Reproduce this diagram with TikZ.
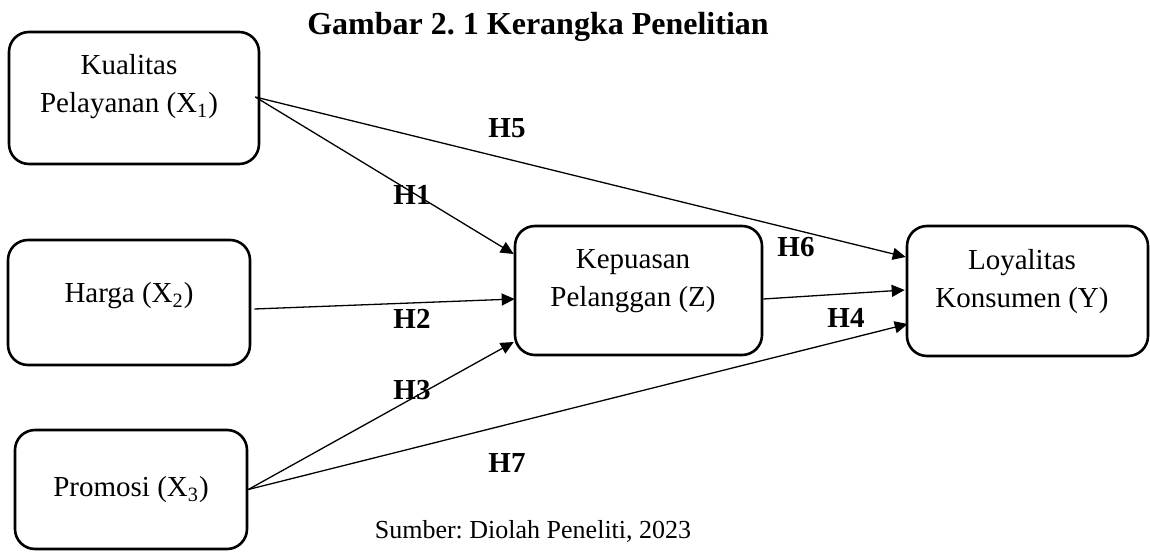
\documentclass[tikz,border=0pt]{standalone}
\usepackage{fontspec}
\setmainfont{Liberation Serif}
\usetikzlibrary{arrows.meta,calc}
\frenchspacing
\begin{document}
\begin{tikzpicture}[x=0.5pt,y=-0.5pt,
  varbox/.style={draw,line width=1.3pt,rounded corners=10pt,inner sep=0pt},
  vartext/.style={align=center,inner sep=0pt,font=\fontsize{14.5}{19}\selectfont},
  hlabel/.style={inner sep=0pt,font=\fontsize{14.5}{17}\selectfont\bfseries},
  conn/.style={line width=0.65pt,-{Triangle[length=6.5pt,width=6pt]}}]
\useasboundingbox (0,0) rectangle (1150,551);
% boxes
\node[varbox,minimum width=125pt,minimum height=66pt] (x1) at (134,98) {};
\node[varbox,minimum width=121pt,minimum height=62.5pt] (x2) at (129,302.5) {};
\node[varbox,minimum width=116pt,minimum height=59.5pt] (x3) at (131,489.5) {};
\node[varbox,minimum width=123.5pt,minimum height=64.5pt] (z) at (638.5,290.5) {};
\node[varbox,minimum width=120.5pt,minimum height=65pt] (y) at (1027.5,291) {};
% texts
\node[vartext] (x1t) at (129,87) {Kualitas\\Pelayanan (X\textsubscript{1})};
\node[vartext] (x2t) at (129,296) {Harga (X\textsubscript{2})};
\node[vartext] (x3t) at (131,490) {Promosi (X\textsubscript{3})};
\node[vartext] (zt) at (633,281.5) {Kepuasan\\Pelanggan (Z)};
\node[vartext] (yt) at (1022,281.5) {Loyalitas\\Konsumen (Y)};
% title and source
\node[inner sep=0pt,font=\fontsize{16}{19}\selectfont\bfseries] (title) at (538,27) {Gambar 2. 1 Kerangka Penelitian};
\node[inner sep=0pt,font=\fontsize{13}{16}\selectfont] (src) at (533,531) {Sumber: Diolah Peneliti, 2023};
% connectors
\draw[conn] ($(x1.east)+(-5,-1)$) -- ($(z.west)+(0,-36.5)$);
\draw[conn] ($(x1.east)+(-5,-1)$) -- ($(y.west)+(0,-34)$);
\draw[conn] ($(x2.east)+(3,6.5)$) -- ($(z.west)+(1,8.5)$);
\draw[conn] (x3.east) -- ($(z.west)+(0,51.5)$);
\draw[conn] (x3.east) -- ($(y.west)+(2,33)$);
\draw[conn] ($(z.east)+(0,8.5)$) -- ($(y.west)+(-1,-1)$);
% labels
\node[hlabel] (h1) at (412,195) {H1};
\node[hlabel] (h2) at (412,319) {H2};
\node[hlabel] (h3) at (412,390) {H3};
\node[hlabel] (h5) at (507,128) {H5};
\node[hlabel] (h6) at (796,247) {H6};
\node[hlabel] (h4) at (846,318) {H4};
\node[hlabel] (h7) at (507,463) {H7};
\end{tikzpicture}
\end{document}
